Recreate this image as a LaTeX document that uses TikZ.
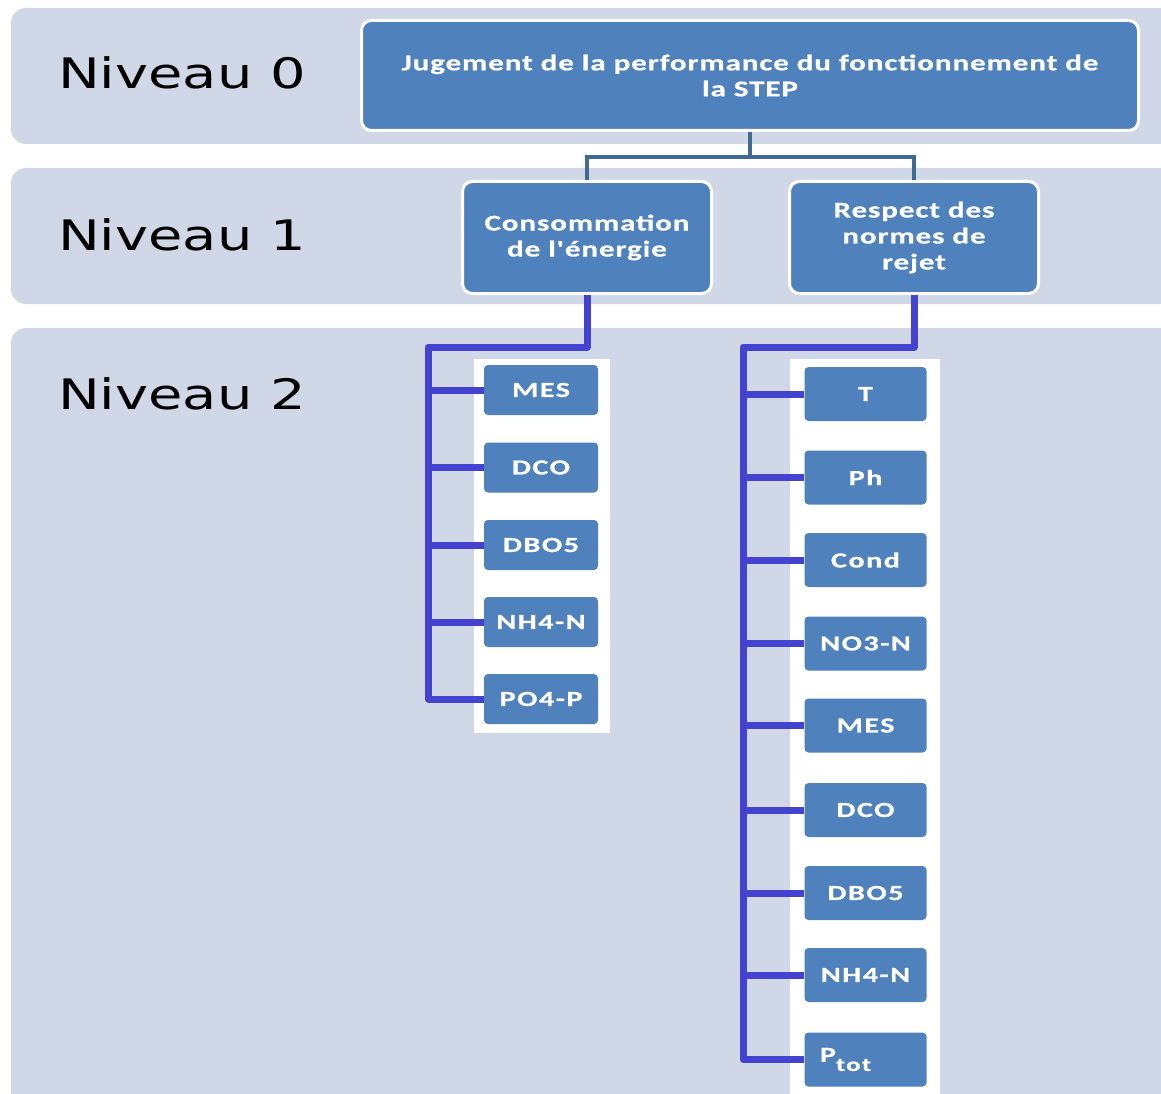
\documentclass[tikz,border=0pt]{standalone}
\usepackage{fontspec}
\newfontfamily\nivfont[FakeStretch=1.33]{DejaVu Sans}
\newfontfamily\boxfont[FakeStretch=1.38,LetterSpace=4,BoldFeatures={FakeBold=0.6}]{Carlito}
\newfontfamily\smallfont[FakeStretch=1.4,LetterSpace=7,BoldFeatures={FakeBold=0.6}]{Carlito}
\definecolor{bandc}{HTML}{D0D8E8}
\definecolor{boxc}{HTML}{4F81BD}
\definecolor{topline}{HTML}{3F6A92}
\definecolor{blueline}{HTML}{4343CF}
\begin{document}
\begin{tikzpicture}[x=1pt,y=-1pt,
  band/.style={fill=bandc, rounded corners=15pt},
  niv/.style={anchor=base west, inner sep=0pt, font=\nivfont\fontsize{42}{48}\selectfont, text=black},
  bigbox/.style={draw=white, line width=3pt, fill=boxc, rounded corners=10pt, text=white, align=center,
    font=\boxfont\bfseries\fontsize{22.5}{26}\selectfont, inner sep=2pt},
  smallbox/.style={fill=boxc, rounded corners=4pt, text=white, inner sep=0pt,
    font=\smallfont\bfseries\fontsize{21.5}{24}\selectfont},
  lbox/.style={smallbox, minimum width=114pt, minimum height=50pt},
  rbox/.style={smallbox, minimum width=122pt, minimum height=54pt},
  tline/.style={draw=topline, line width=4pt},
  bline/.style={draw=blueline, line width=7pt, line join=round}]
\useasboundingbox (0,0) rectangle (1161,1094);
% bands
\fill[band] (11,8) rectangle (1175,144);
\fill[band] (11,168) rectangle (1175,304);
\fill[band] (11,328) rectangle (1175,1120);
% level labels
\node[niv] (n0) at (58,89) {Niveau 0};
\node[niv] (n1) at (58,250) {Niveau 1};
\node[niv] (n2) at (58,409) {Niveau 2};
% white columns
\fill[white] (474,359) rectangle (610,733);
\fill[white] (790,359) rectangle (940,1100);
% level 0 and 1
\node[bigbox, minimum width=777pt, minimum height=110pt] (top) at (750,75.5)
  {Jugement de la performance du fonctionnement de\\la STEP};
\node[bigbox, minimum width=249pt, minimum height=112pt] (cons) at (587,237.5)
  {Consommation\\de l'énergie};
\node[bigbox, minimum width=249pt, minimum height=112pt] (resp) at (914,237.5)
  {Respect des\\normes de\\rejet};
% level 2 left
\node[lbox] (l1) at (541,390) {MES};
\node[lbox] (l2) at (541,467.5) {DCO};
\node[lbox] (l3) at (541,545) {DBO5};
\node[lbox] (l4) at (541,622) {NH4-N};
\node[lbox] (l5) at (541,699) {PO4-P};
% level 2 right
\node[rbox] (r1) at (865.5,394) {T};
\node[rbox] (r2) at (865.5,477.5) {Ph};
\node[rbox] (r3) at (865.5,560) {Cond};
\node[rbox] (r4) at (865.5,643.5) {NO3-N};
\node[rbox] (r5) at (865.5,725.5) {MES};
\node[rbox] (r6) at (865.5,810) {DCO};
\node[rbox] (r7) at (865.5,893) {DBO5};
\node[rbox] (r8) at (865.5,975) {NH4-N};
\node[rbox] (r9) at (865.5,1059.5) {P\raisebox{-9pt}{\fontsize{19}{20}\selectfont tot}\hspace*{40pt}};
% connectors level 0 -> 1
\coordinate (tj) at (750,157);
\draw[tline] (top.south) -- (tj);
\draw[tline] (cons.north) |- (tj) -| (resp.north);
% connectors level 1 -> 2
\coordinate (ls) at (428,347);
\coordinate (rs) at (743,347);
\draw[bline] (cons.south) |- (ls) |- (l5.west);
\foreach \i in {1,...,4} \draw[bline] (ls |- l\i.west) -- (l\i.west);
\draw[bline] (resp.south) |- (rs) |- (r9.west);
\foreach \i in {1,...,8} \draw[bline] (rs |- r\i.west) -- (r\i.west);
\end{tikzpicture}
\end{document}
